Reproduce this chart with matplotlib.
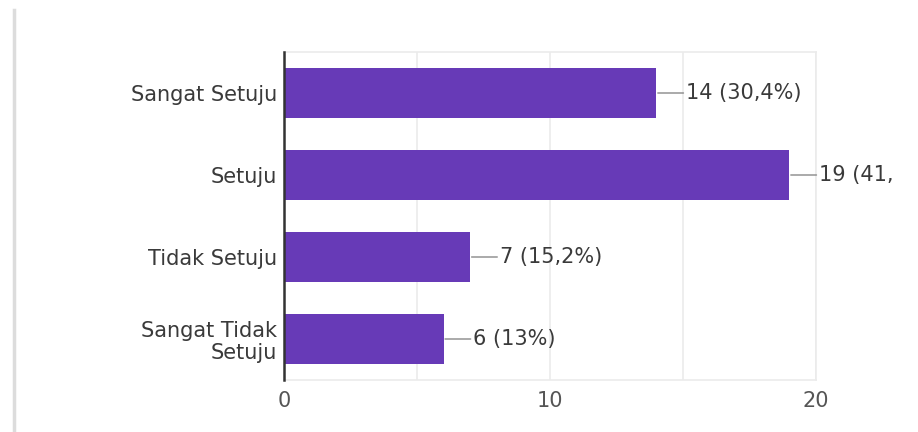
import matplotlib
matplotlib.use("Agg")
import matplotlib.pyplot as plt
from matplotlib.transforms import Bbox

plt.rcParams['font.family'] = ['DejaVu Sans']

categories = ["Sangat Setuju", "Setuju", "Tidak Setuju", "Sangat Tidak\nSetuju"]
counts = [14, 19, 7, 6]
percent_labels = ["30,4%", "41,3%", "15,2%", "13%"]
x_ticks = [0, 10, 20]

BAR_COLOR = "#673ab7"
TEXT_COLOR = "#3a3a3a"
GRID_COLOR = "#ebebeb"
FS = 15

fig = plt.figure(figsize=(9.18, 4.32), dpi=100)
fig.patch.set_facecolor("white")

# thin gray frame strip on the left edge of the card
fig.add_artist(plt.Line2D([13.5 / 918, 13.5 / 918], [0, 1 - 10 / 432],
                          transform=fig.transFigure, color="#dcdcdc", lw=2.5))

ax = fig.add_axes([284 / 918, 52 / 432, (816 - 284) / 918, (380 - 52) / 432])

ypos = list(range(len(categories)))
ax.barh(ypos, counts, height=0.61, color=BAR_COLOR, zorder=3)
ax.set_ylim(len(categories) - 0.5, -0.5)
ax.set_xlim(0, 20)

ax.set_yticks(ypos)
ax.set_yticklabels(categories, fontsize=FS, color=TEXT_COLOR, linespacing=1.1)
ax.set_xticks(x_ticks)
ax.set_xticklabels([str(t) for t in x_ticks], fontsize=FS, color="#555555")
ax.set_xticks([5, 15], minor=True)
ax.tick_params(axis="both", which="both", length=0)
ax.tick_params(axis="y", pad=5)
ax.tick_params(axis="x", pad=8)

ax.grid(axis="x", which="both", color=GRID_COLOR, lw=1.2, zorder=0)
ax.set_axisbelow(True)

for side in ("top", "right", "bottom"):
    ax.spines[side].set_color(GRID_COLOR)
    ax.spines[side].set_linewidth(1.2)
ax.spines["left"].set_color("#333333")
ax.spines["left"].set_linewidth(1.8)
ax.spines["left"].set_zorder(4)

# value labels with short leader lines; the card's right edge cuts them off
clip = Bbox.from_extents(0, 0, 893, 432)
for y, c, p in zip(ypos, counts, percent_labels):
    ann = ax.annotate(f"{c} ({p})", xy=(c, y), xytext=(21.5, 0),
                      textcoords="offset points", va="center", ha="left",
                      fontsize=FS, color=TEXT_COLOR, annotation_clip=False,
                      arrowprops=dict(arrowstyle="-", color="#888888", lw=1,
                                      shrinkA=0, shrinkB=1))
    ann.set_clip_on(True)
    ann.set_clip_box(clip)

fig.savefig("out.png", dpi=100, facecolor="white")
